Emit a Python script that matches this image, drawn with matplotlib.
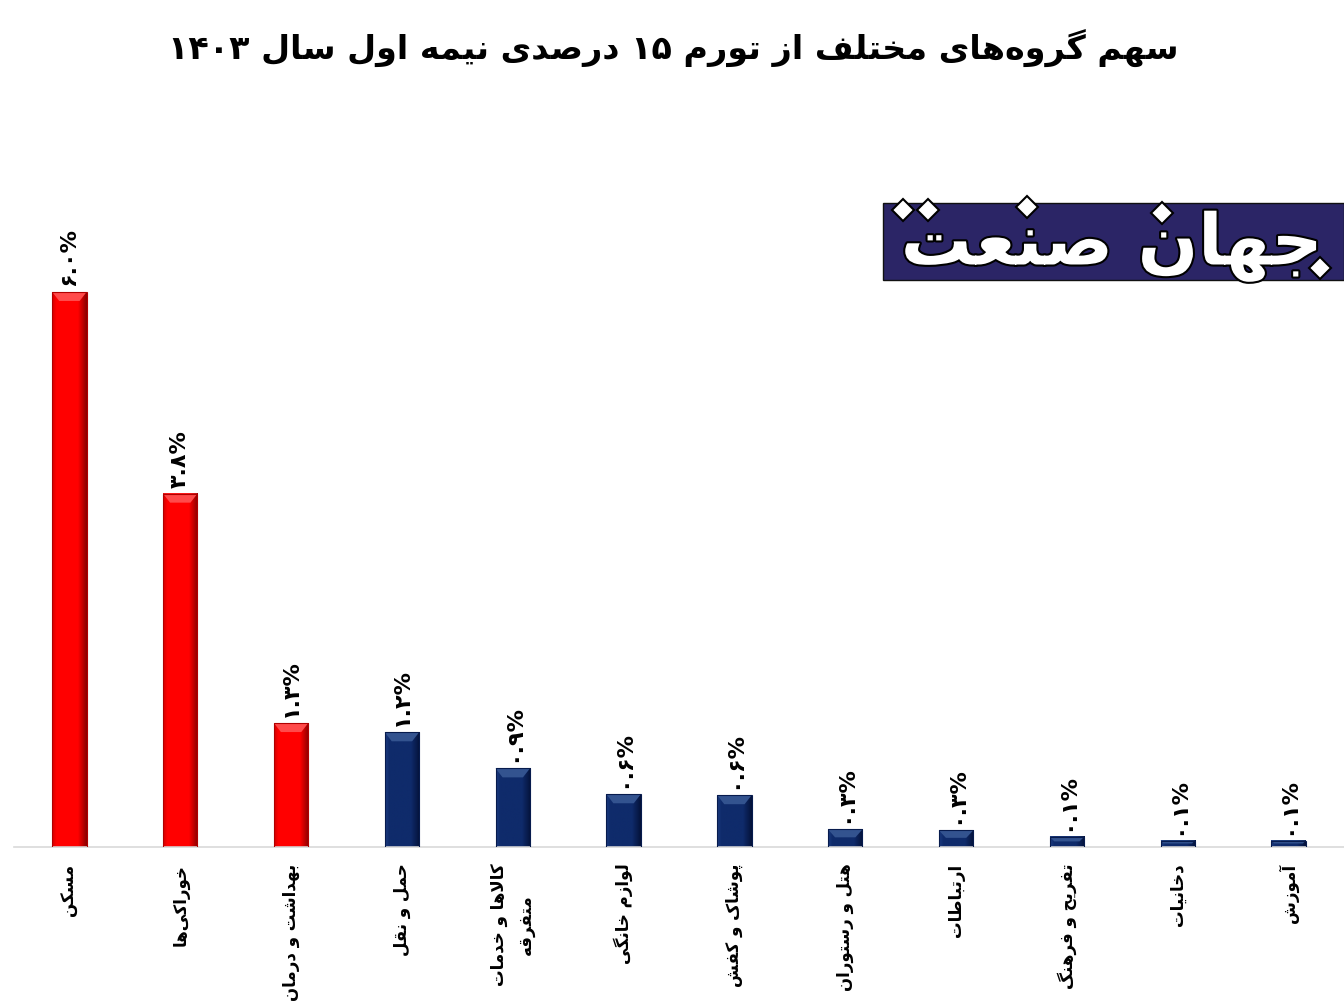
import re
import numpy as np
import matplotlib
matplotlib.use("Agg")
import matplotlib.pyplot as plt
from matplotlib import font_manager as fm
from matplotlib.patches import Rectangle, Polygon
from matplotlib.colors import LinearSegmentedColormap
import matplotlib.patheffects as pe

# ---------------- data ----------------
title = "سهم گروه‌های مختلف از تورم ۱۵ درصدی نیمه اول سال ۱۴۰۳"
categories = ["مسکن", "خوراکی‌ها", "بهداشت و درمان", "حمل و نقل",
              "کالاها و خدمات\nمتفرقه", "لوازم خانگی", "پوشاک و کفش",
              "هتل و رستوران", "ارتباطات", "تفریح و فرهنگ", "دخانیات", "آموزش"]
values = [6.0, 3.82, 1.34, 1.24, 0.85, 0.57, 0.56, 0.19, 0.18, 0.11, 0.07, 0.07]
value_labels = ["۶.۰%", "۳.۸%", "۱.۳%", "۱.۲%", "۰.۹%", "۰.۶%", "۰.۶%",
                "۰.۳%", "۰.۳%", "۰.۱%", "۰.۱%", "۰.۱%"]
groups = ["top", "top", "top", "rest", "rest", "rest", "rest", "rest",
          "rest", "rest", "rest", "rest"]
logo_text = "جهان صنعت"

# ---------------- simple Persian shaping ----------------
FORMS = {  # iso, fin, ini, med
    '\u0627': (0xFE8D, 0xFE8E), '\u0622': (0xFE81, 0xFE82),
    '\u0628': (0xFE8F, 0xFE90, 0xFE91, 0xFE92), '\u062A': (0xFE95, 0xFE96, 0xFE97, 0xFE98),
    '\u062B': (0xFE99, 0xFE9A, 0xFE9B, 0xFE9C), '\u062C': (0xFE9D, 0xFE9E, 0xFE9F, 0xFEA0),
    '\u062D': (0xFEA1, 0xFEA2, 0xFEA3, 0xFEA4), '\u062E': (0xFEA5, 0xFEA6, 0xFEA7, 0xFEA8),
    '\u062F': (0xFEA9, 0xFEAA), '\u0630': (0xFEAB, 0xFEAC),
    '\u0631': (0xFEAD, 0xFEAE), '\u0632': (0xFEAF, 0xFEB0), '\u0698': (0xFB8A, 0xFB8B),
    '\u0633': (0xFEB1, 0xFEB2, 0xFEB3, 0xFEB4), '\u0634': (0xFEB5, 0xFEB6, 0xFEB7, 0xFEB8),
    '\u0635': (0xFEB9, 0xFEBA, 0xFEBB, 0xFEBC), '\u0636': (0xFEBD, 0xFEBE, 0xFEBF, 0xFEC0),
    '\u0637': (0xFEC1, 0xFEC2, 0xFEC3, 0xFEC4), '\u0638': (0xFEC5, 0xFEC6, 0xFEC7, 0xFEC8),
    '\u0639': (0xFEC9, 0xFECA, 0xFECB, 0xFECC), '\u063A': (0xFECD, 0xFECE, 0xFECF, 0xFED0),
    '\u0641': (0xFED1, 0xFED2, 0xFED3, 0xFED4), '\u0642': (0xFED5, 0xFED6, 0xFED7, 0xFED8),
    '\u06A9': (0xFB8E, 0xFB8F, 0xFB90, 0xFB91), '\u06AF': (0xFB92, 0xFB93, 0xFB94, 0xFB95),
    '\u0644': (0xFEDD, 0xFEDE, 0xFEDF, 0xFEE0), '\u0645': (0xFEE1, 0xFEE2, 0xFEE3, 0xFEE4),
    '\u0646': (0xFEE5, 0xFEE6, 0xFEE7, 0xFEE8), '\u0647': (0xFEE9, 0xFEEA, 0xFEEB, 0xFEEC),
    '\u0648': (0xFEED, 0xFEEE), '\u06CC': (0xFBFC, 0xFBFD, 0xFBFE, 0xFBFF),
    '\u067E': (0xFB56, 0xFB57, 0xFB58, 0xFB59), '\u0686': (0xFB7A, 0xFB7B, 0xFB7C, 0xFB7D),
    '\u0626': (0xFE89, 0xFE8A, 0xFE8B, 0xFE8C),
}
LAMALEF = {'\u0627': (0xFEFB, 0xFEFC), '\u0622': (0xFEF5, 0xFEF6)}


def dual(c):
    return c in FORMS and len(FORMS[c]) == 4


def shape_line(s):
    out = []
    i = 0
    n = len(s)
    while i < n:
        c = s[i]
        prev = s[i - 1] if i > 0 else ''
        cp = dual(prev)
        if c == '\u0644' and i + 1 < n and s[i + 1] in LAMALEF:
            f = LAMALEF[s[i + 1]]
            out.append(chr(f[1] if cp else f[0]))
            i += 2
            continue
        if c in FORMS:
            nxt = s[i + 1] if i + 1 < n else ''
            cn = dual(c) and nxt in FORMS
            f = FORMS[c]
            if cp and cn:
                g = f[3]
            elif cp:
                g = f[1]
            elif cn:
                g = f[2]
            else:
                g = f[0]
            out.append(chr(g))
        elif c == '\u200c':
            pass
        else:
            out.append(c)
        i += 1
    shaped = ''.join(out)
    tokens = re.findall(r'[0-9\u06F0-\u06F9.%]+|[^0-9\u06F0-\u06F9.%]+', shaped)
    res = []
    for t in reversed(tokens):
        if re.match(r'[0-9\u06F0-\u06F9.%]', t):
            res.append(t)
        else:
            res.append(t[::-1])
    return ''.join(res)


def fa(s):
    return '\n'.join(shape_line(line) for line in s.split('\n'))


# ---------------- font check ----------------
needed = set(''.join(fa(t) for t in [title, logo_text] + categories + value_labels))
needed.discard('\n')
fam = 'DejaVu Sans'
weight = 'bold'
extra_fx = []
try:
    from fontTools.ttLib import TTFont
    pth = fm.findfont(fm.FontProperties(family=fam, weight='bold'))
    cmap = TTFont(pth).getBestCmap()
    if not all(ord(c) in cmap for c in needed if c != ' '):
        weight = 'normal'
        extra_fx = [pe.withStroke(linewidth=1.2, foreground='black')]
except Exception:
    pass

plt.rcParams['font.family'] = [fam]

W, H = 1344, 1008
fig = plt.figure(figsize=(W / 100, H / 100), dpi=100)
fig.patch.set_facecolor('white')

ax_l, ax_r, ax_b, ax_t = 14, 1344, 847, 130
ax = fig.add_axes([ax_l / W, 1 - ax_b / H, (ax_r - ax_l) / W, (ax_b - ax_t) / H])
ymax = values[0] * (ax_b - ax_t) / (ax_b - 292)
ax.set_xlim(-0.5, len(values) - 0.5)
ax.set_ylim(0, ymax)
px = ymax / (ax_b - ax_t)
pxx = 1.0 / ((ax_r - ax_l) / len(values))

x = np.arange(len(values))
bw = 0.31

palette = {
    'top': dict(mid='#FF0000', edge_l='#D40000', edge_r='#8A0000', cap='#FF4A4A', bot='#B00000'),
    'rest': dict(mid='#0F2B6B', edge_l='#1B3A80', edge_r='#04123A', cap='#33538F', bot='#071B4D'),
}

for xi, v, g in zip(x, values, groups):
    p = palette[g]
    cm = LinearSegmentedColormap.from_list(
        'b', [(0, p['edge_l']), (0.12, p['mid']), (0.75, p['mid']), (1.0, p['edge_r'])])
    grad = np.linspace(0, 1, 64)[None, :]
    ax.imshow(grad, cmap=cm, aspect='auto', extent=(xi - bw / 2, xi + bw / 2, 0, v),
              interpolation='bilinear', zorder=2)
    cy = min(9 * px, v * 0.45)
    cx = min(7 * pxx, cy / px * pxx)
    ax.add_patch(Polygon([(xi - bw / 2, v), (xi + bw / 2, v), (xi + bw / 2 - cx, v - cy),
                          (xi - bw / 2 + cx, v - cy)], closed=True, facecolor=p['cap'],
                         edgecolor='none', zorder=3))
    ax.add_patch(Rectangle((xi - bw / 2, 0), bw, v, facecolor='none',
                           edgecolor=p['bot'], linewidth=0.8, zorder=4))

ax.set_xlim(-0.5, len(values) - 0.5)
ax.set_ylim(0, ymax)

for xi, v, lab in zip(x, values, value_labels):
    ax.text(xi, v + 6 * px, lab, rotation=90, ha='center', va='bottom',
            fontsize=16, fontweight=weight, color='black', path_effects=extra_fx, zorder=5)

ax.set_xticks(x)
ax.set_xticklabels([fa(c) for c in categories], rotation=90, fontsize=12,
                   fontweight=weight, ha='center', va='top', multialignment='center',
                   linespacing=1.6)
for t in ax.get_xticklabels():
    t.set_path_effects(extra_fx)
ax.tick_params(axis='x', length=0, pad=12)
ax.set_yticks([])
for s in ['top', 'right', 'left']:
    ax.spines[s].set_visible(False)
ax.spines['bottom'].set_color('#D9D9D9')
ax.spines['bottom'].set_linewidth(1.2)
ax.set_facecolor('none')

fig.text(673 / W, 1 - 48 / H, fa(title), ha='center', va='center', fontsize=24,
         fontweight=weight, color='black', path_effects=extra_fx)

# ---------------- logo ----------------
ov = fig.add_axes([0, 0, 1, 1], zorder=10)
ov.set_xlim(0, W)
ov.set_ylim(H, 0)
ov.axis('off')
ov.patch.set_alpha(0)
ov.add_patch(Rectangle((883, 203), 461, 77, facecolor='#2B2566', edgecolor='#111111',
                       linewidth=1.0))
ov.text(1112, 246, fa(logo_text), ha='center', va='center', fontsize=51,
        fontweight='bold' if weight == 'bold' else 'normal', color='white',
        path_effects=[pe.withStroke(linewidth=3, foreground='black')])
for dx, dy in [(903, 210), (928, 210), (1027, 207), (1162, 213), (1320, 268)]:
    ov.plot(dx, dy, marker='D', markersize=11, markerfacecolor='white',
            markeredgecolor='black', markeredgewidth=1.5)

fig.savefig('out.png', dpi=100, facecolor='white')
